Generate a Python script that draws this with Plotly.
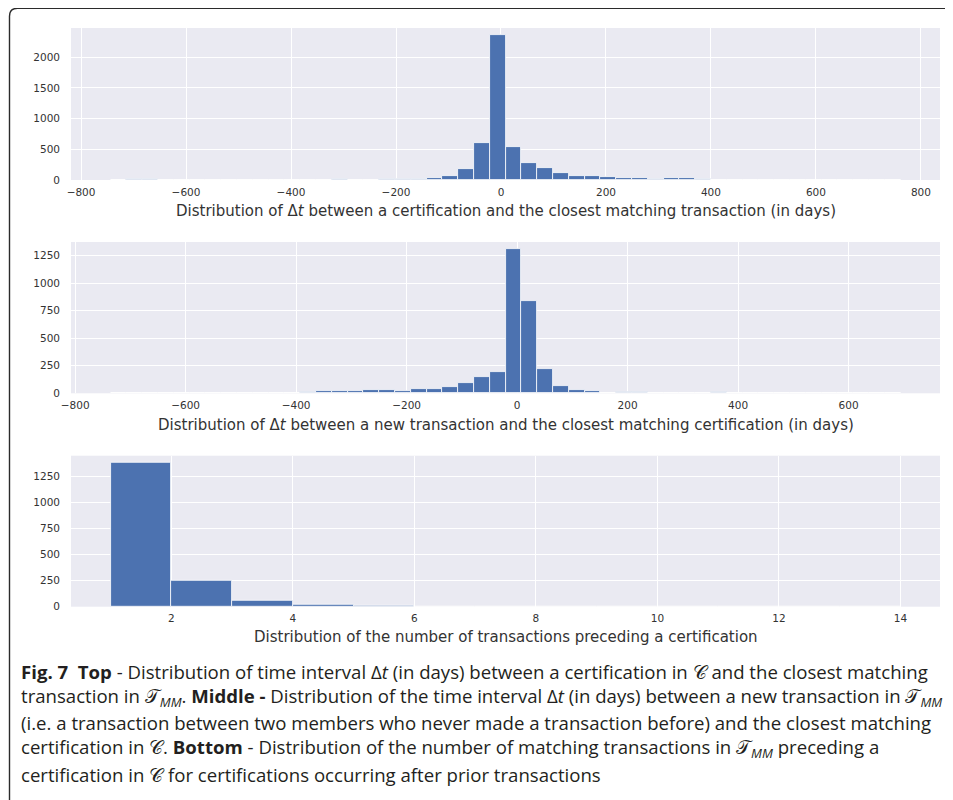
import numpy as np
import plotly.graph_objects as go

# the page body adds an 8px offset; the figure covers the remaining 945x792 area
OFF = 8
W, H = 953 - OFF, 800 - OFF

# ---------------- data ----------------
# Top: Δt between a certification and the closest matching transaction (50 bins)
top_bin_start = -743.9
top_bin_width = 30.1
top_counts = [3, 15, 15, 0, 0, 5, 0, 0, 0, 0,
              0, 0, 0, 0, 15, 0, 0, 15, 15, 15,
              35, 67, 178, 605, 2358, 542, 276, 195, 114, 70,
              70, 54, 38, 38, 22, 38, 38, 22, 0, 0,
              0, 0, 0, 0, 0, 0, 0, 0, 0, 3]
top_xticks = [-800, -600, -400, -200, 0, 200, 400, 600, 800]
top_yticks = [0, 500, 1000, 1500, 2000]

# Middle: Δt between a new transaction and the closest matching certification (50 bins)
mid_bin_start = -736.0
mid_bin_width = 28.6
mid_counts = [3, 2, 0, 2, 0, 0, 0, 0, 0, 0,
              0, 0, 9, 19, 20, 20, 29, 29, 17, 38,
              38, 57, 92, 146, 194, 1310, 840, 218, 67, 27,
              18, 0, 12, 12, 0, 0, 0, 0, 12, 0,
              0, 3, 0, 0, 0, 3, 0, 0, 0, 3]
mid_xticks = [-800, -600, -400, -200, 0, 200, 400, 600]
mid_yticks = [0, 250, 500, 750, 1000, 1250]

# Bottom: number of transactions preceding a certification (13 bins of width 1)
bot_bin_start = 1.0
bot_bin_width = 1.0
bot_counts = [1377, 246, 55, 19, 10, 2, 1, 0, 1, 0, 0, 2, 1]
bot_xticks = [2, 4, 6, 8, 10, 12, 14]
bot_yticks = [0, 250, 500, 750, 1000, 1250]

top_label = "Distribution of Δ<i>t</i> between a certification and the closest matching transaction (in days)"
mid_label = "Distribution of Δ<i>t</i> between a new transaction and the closest matching certification (in days)"
bot_label = "Distribution of the number of transactions preceding a certification"

C = "𝒞"
T = "𝒯<sub><i>MM</i></sub>"
caption_lines = [
    "<b>Fig. 7&nbsp; Top</b> - Distribution of time interval Δ<i>t</i> (in days) between a certification in " + C + " and the closest matching",
    "transaction in " + T + ". <b>Middle -</b> Distribution of the time interval Δ<i>t</i> (in days) between a new transaction in " + T,
    "(i.e. a transaction between two members who never made a transaction before) and the closest matching",
    "certification in " + C + ". <b>Bottom</b> - Distribution of the number of matching transactions in " + T + " preceding a",
    "certification in " + C + " for certifications occurring after prior transactions",
]

# ---------------- styling ----------------
BAR = "#4C72B0"
BG = "#EAEAF2"
TXT = "#333333"
FONT = "DejaVu Sans"

def px_x(x):
    return (x - OFF) / W

def px_y(y):
    return 1 - (y - OFF) / H

# panels in page-pixel coordinates
X0, X1 = 71, 940
panels = [(28, 180), (242, 393.3), (455.7, 606.7)]

def hist_trace(start, width, counts, axis_id):
    n = len(counts)
    centers = start + width * (np.arange(n) + 0.5)
    return go.Bar(x=centers, y=counts, width=width,
                  marker=dict(color=BAR, line=dict(color="white", width=0.8)),
                  xaxis="x" + axis_id, yaxis="y" + axis_id,
                  showlegend=False, hoverinfo="x+y")

fig = go.Figure()
fig.add_trace(hist_trace(top_bin_start, top_bin_width, top_counts, ""))
fig.add_trace(hist_trace(mid_bin_start, mid_bin_width, mid_counts, "2"))
fig.add_trace(hist_trace(bot_bin_start, bot_bin_width, bot_counts, "3"))

def xr(start, width, n):
    lo, hi = start, start + width * n
    m = 0.05 * (hi - lo)
    return [lo - m, hi + m]

ranges_x = [xr(top_bin_start, top_bin_width, len(top_counts)),
            xr(mid_bin_start, mid_bin_width, len(mid_counts)),
            xr(bot_bin_start, bot_bin_width, len(bot_counts))]
ranges_y = [[0, max(top_counts) * 1.05], [0, max(mid_counts) * 1.05], [0, max(bot_counts) * 1.05]]
xticks = [top_xticks, mid_xticks, bot_xticks]
yticks = [top_yticks, mid_yticks, bot_yticks]

layout = dict(
    width=W, height=H, margin=dict(l=0, r=0, t=0, b=0, pad=0, autoexpand=False),
    paper_bgcolor="white", plot_bgcolor=BG, bargap=0,
    font=dict(family=FONT, color=TXT, size=11),
)
for i, suffix in enumerate(["", "2", "3"]):
    top, bot = panels[i]
    layout["xaxis" + suffix] = dict(
        domain=[px_x(X0), px_x(X1)], anchor="y" + suffix, range=ranges_x[i],
        tickvals=xticks[i], showgrid=True, gridcolor="white", gridwidth=1.2,
        zeroline=False, showline=False, ticks="", ticklabelstandoff=4, automargin=False,
        tickfont=dict(family=FONT, size=10.5, color=TXT))
    layout["yaxis" + suffix] = dict(
        domain=[px_y(bot), px_y(top)], anchor="x" + suffix, range=ranges_y[i],
        tickvals=yticks[i], showgrid=True, gridcolor="white", gridwidth=1.2,
        zeroline=False, showline=False, ticks="", ticklabelstandoff=10, automargin=False,
        tickfont=dict(family=FONT, size=10.5, color=TXT))
fig.update_layout(**layout)

annotations = []
for lab, yc in [(top_label, 211), (mid_label, 425), (bot_label, 636.5)]:
    annotations.append(dict(text=lab, x=px_x(505.5), y=px_y(yc), xref="paper", yref="paper",
                            xanchor="center", yanchor="middle", showarrow=False,
                            font=dict(family=FONT, size=15, color=TXT)))
for j, line in enumerate(caption_lines):
    annotations.append(dict(text=line, x=px_x(19), y=px_y(671 + 25.8 * j), xref="paper", yref="paper",
                            xanchor="left", yanchor="middle", showarrow=False, align="left",
                            font=dict(family="Open Sans, Roboto", size=18.6, color="#231f20")))
fig.update_layout(annotations=annotations)

# frame with rounded top-left corner (page-pixel coordinates)
x0, y0, r = 9.5, 8.3, 8
path = (f"M {px_x(x0)},{px_y(810)} L {px_x(x0)},{px_y(y0 + r)} "
        f"Q {px_x(x0)},{px_y(y0)} {px_x(x0 + r)},{px_y(y0)} L {px_x(965)},{px_y(y0)}")
fig.add_shape(type="path", path=path, xref="paper", yref="paper",
              line=dict(color="#2b2b2b", width=1.4))

fig.write_html("out.html")
